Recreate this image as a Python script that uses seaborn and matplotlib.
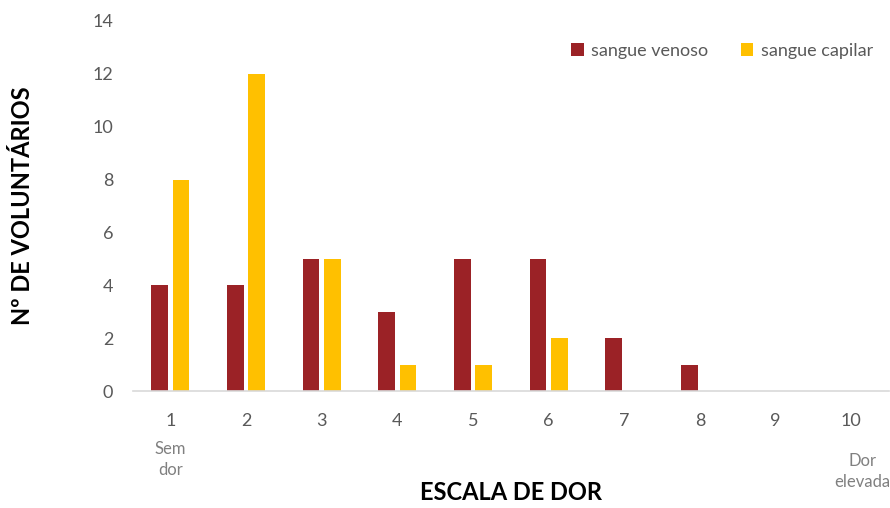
import pandas as pd
import matplotlib.pyplot as plt
import seaborn as sns

# Data #
escala = ["1", "2", "3", "4", "5", "6", "7", "8", "9", "10"]
venoso = [4, 4, 5, 3, 5, 5, 2, 1, 0, 0]
capilar = [8, 12, 5, 1, 1, 2, 0, 0, 0, 0]
series = ["sangue venoso", "sangue capilar"]
cores = ["#9B2226", "#FFC000"]

df = pd.DataFrame({
    "escala": escala * 2,
    "valor": venoso + capilar,
    "serie": [series[0]] * len(escala) + [series[1]] * len(escala),
})

sns.set_style("white")
plt.rcParams["font.family"] = ["Lato", "DejaVu Sans"]

fig = plt.figure(figsize=(8.9, 5.08), dpi=100)
ax = fig.add_axes([0.149, 0.2303, 0.850, 0.7284])

sns.barplot(data=df, x="escala", y="valor", hue="serie", palette=cores,
            width=0.564, gap=0.216, ax=ax, saturation=1, linewidth=0)

ax.set_ylim(0, 14)
ax.set_yticks(range(0, 15, 2))
ax.set_xlim(-0.5, 9.5)
ax.tick_params(axis="x", colors="#595959", labelsize=13, length=0, pad=16)
ax.tick_params(axis="y", colors="#595959", labelsize=13, length=0, pad=14)
for s in ["top", "right", "left"]:
    ax.spines[s].set_visible(False)
ax.spines["bottom"].set_color("#D9D9D9")
ax.spines["bottom"].set_linewidth(1.2)

ax.set_xlabel("ESCALA DE DOR", fontsize=17, fontweight="bold", color="black", labelpad=37)
ax.set_ylabel("Nº DE VOLUNTÁRIOS", fontsize=17, fontweight="bold", color="black", labelpad=42)

ax.text(0, -1.9, "Sem\ndor", ha="center", va="top", color="#808080", fontsize=12, linespacing=1.35)
ax.text(9.15, -2.35, "Dor\nelevada", ha="center", va="top", color="#808080", fontsize=12, linespacing=1.35)

leg = ax.legend(loc="upper right", bbox_to_anchor=(1.0, 0.985), ncol=2, frameon=False,
                fontsize=13, handlelength=0.7, handleheight=0.7, handletextpad=0.4,
                columnspacing=1.8, labelcolor="#595959")

fig.savefig("out.png", dpi=100)
